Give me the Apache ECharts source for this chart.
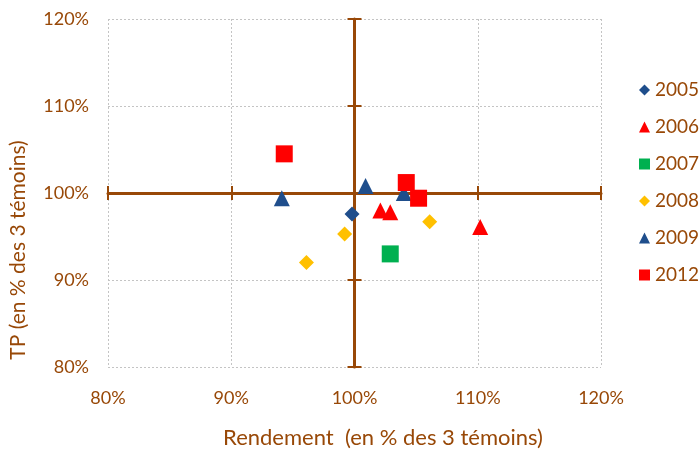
<!DOCTYPE html>
<html>
<head>
<meta charset="utf-8">
<script src="https://cdn.jsdelivr.net/npm/echarts@6/dist/echarts.min.js"></script>
<style>
  html, body { margin: 0; padding: 0; background: #fff; }
  #main { width: 700px; height: 453px; }
</style>
</head>
<body>
<div id="main"></div>
<script>
// valeurs : [rendement %, TP %]
var years = ['2005', '2006', '2007', '2008', '2009', '2012'];
var pts2005 = [[99.8, 97.6]];
var pts2006 = [[102.1, 98.0], [102.9, 97.8], [110.2, 96.1]];
var pts2007 = [[102.9, 93.0]];
var pts2008 = [[106.1, 96.7], [99.2, 95.3], [96.1, 92.0]];
var pts2009 = [[94.1, 99.4], [100.9, 100.8], [104.0, 100.0]];
var pts2012 = [[94.3, 104.5], [104.2, 101.2], [105.2, 99.4]];
var ticks = [80, 90, 100, 110, 120];

var brown = '#984807';
var font = 'Lato';

var myChart = echarts.init(document.getElementById('main'));

function mkSerie(name, data, symbol, size, color) {
    return {
        name: name,
        type: 'scatter',
        data: data,
        symbol: symbol,
        symbolSize: size,
        itemStyle: { color: color, opacity: 1 },
        xAxisIndex: 0,
        yAxisIndex: 0
    };
}

// axe "de base" (etiquettes + quadrillage pointille)
function baseAxis(pos) {
    return {
        type: 'value', min: ticks[0], max: ticks[ticks.length - 1], interval: 10,
        position: pos,
        axisLine: { show: false },
        axisTick: { show: false },
        axisLabel: {
            color: brown, fontFamily: font, fontSize: 18,
            margin: pos == 'bottom' ? 22 : 19,
            formatter: '{value}%'
        },
        splitLine: { show: true, lineStyle: { color: '#c4c4c4', type: [2, 2], width: 1 } }
    };
}

// axes marron qui se croisent a 100%
function crossAxis(pos, off, inside, line) {
    return {
        type: 'value', min: ticks[0], max: ticks[ticks.length - 1], interval: 10,
        position: pos,
        offset: off,
        axisLine: { show: line, onZero: false, lineStyle: { color: brown, width: 3 } },
        axisTick: { show: true, inside: inside, length: 7, lineStyle: { color: brown, width: 2 } },
        axisLabel: { show: false },
        splitLine: { show: false }
    };
}

myChart.setOption({
    animation: false,
    grid: { left: 108, right: 99, top: 19, bottom: 86 },
    xAxis: [
        baseAxis('bottom'),
        crossAxis('bottom', -174, true, true),
        crossAxis('bottom', -174, false, false)
    ],
    yAxis: [
        baseAxis('left'),
        crossAxis('left', -246.5, true, true),
        crossAxis('left', -246.5, false, false)
    ],
    legend: {
        orient: 'vertical',
        left: 634,
        top: 75,
        itemWidth: 11,
        itemHeight: 11,
        itemGap: 17,
        textStyle: { color: brown, fontFamily: font, fontSize: 19, lineHeight: 20 },
        data: years
    },
    graphic: [
        {
            type: 'text',
            x: 18, y: 250,
            rotation: Math.PI / 2,
            style: {
                text: 'TP (en % des 3 témoins)',
                fill: brown, font: '21px ' + font,
                textAlign: 'center', textVerticalAlign: 'middle'
            }
        },
        {
            type: 'text',
            x: 383, y: 438,
            style: {
                text: 'Rendement  (en % des 3 témoins)',
                fill: brown, font: '22px ' + font,
                textAlign: 'center', textVerticalAlign: 'middle'
            }
        }
    ],
    series: [
        mkSerie('2005', pts2005, 'diamond', 15, '#1f4e8c'),
        mkSerie('2006', pts2006, 'triangle', 16, '#ff0000'),
        mkSerie('2007', pts2007, 'rect', 17, '#00b050'),
        mkSerie('2008', pts2008, 'diamond', 15, '#ffc000'),
        mkSerie('2009', pts2009, 'triangle', 16, '#1f4e8c'),
        mkSerie('2012', pts2012, 'rect', 17, '#ff0000')
    ]
});
</script>
</body>
</html>
